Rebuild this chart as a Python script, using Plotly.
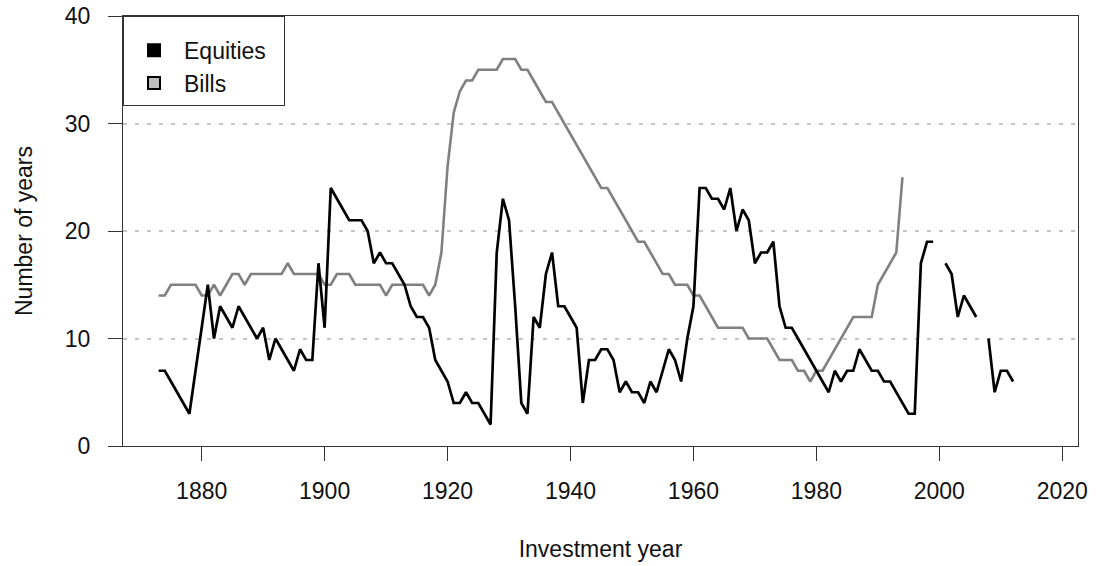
import plotly.graph_objects as go

years_eq = list(range(1873, 2013))
equities = [
    7, 7, 6, 5, 4, 3, 7, 11, 15, 10,          # 1873-1882
    13, 12, 11, 13, 12, 11, 10, 11, 8, 10,    # 1883-1892
    9, 8, 7, 9, 8, 8, 17, 11, 24, 23,         # 1893-1902
    22, 21, 21, 21, 20, 17, 18, 17, 17, 16,   # 1903-1912
    15, 13, 12, 12, 11, 8, 7, 6, 4, 4,        # 1913-1922
    5, 4, 4, 3, 2, 18, 23, 21, 13, 4,         # 1923-1932
    3, 12, 11, 16, 18, 13, 13, 12, 11, 4,     # 1933-1942
    8, 8, 9, 9, 8, 5, 6, 5, 5, 4,             # 1943-1952
    6, 5, 7, 9, 8, 6, 10, 13, 24, 24,         # 1953-1962
    23, 23, 22, 24, 20, 22, 21, 17, 18, 18,   # 1963-1972
    19, 13, 11, 11, 10, 9, 8, 7, 6, 5,        # 1973-1982
    7, 6, 7, 7, 9, 8, 7, 7, 6, 6,             # 1983-1992
    5, 4, 3, 3, 17, 19, 19, None, 17, 16,     # 1993-2002
    12, 14, 13, 12, None, 10, 5, 7, 7, 6,     # 2003-2012
]

years_bi = list(range(1873, 1995))
bills = [
    14, 14, 15, 15, 15, 15, 15, 14, 14, 15,   # 1873-1882
    14, 15, 16, 16, 15, 16, 16, 16, 16, 16,   # 1883-1892
    16, 17, 16, 16, 16, 16, 16, 15, 15, 16,   # 1893-1902
    16, 16, 15, 15, 15, 15, 15, 14, 15, 15,   # 1903-1912
    15, 15, 15, 15, 14, 15, 18, 26, 31, 33,   # 1913-1922
    34, 34, 35, 35, 35, 35, 36, 36, 36, 35,   # 1923-1932
    35, 34, 33, 32, 32, 31, 30, 29, 28, 27,   # 1933-1942
    26, 25, 24, 24, 23, 22, 21, 20, 19, 19,   # 1943-1952
    18, 17, 16, 16, 15, 15, 15, 14, 14, 13,   # 1953-1962
    12, 11, 11, 11, 11, 11, 10, 10, 10, 10,   # 1963-1972
    9, 8, 8, 8, 7, 7, 6, 7, 7, 8,             # 1973-1982
    9, 10, 11, 12, 12, 12, 12, 15, 16, 17,    # 1983-1992
    18, 25,                                   # 1993-1994
]

x_ticks = [1880, 1900, 1920, 1940, 1960, 1980, 2000, 2020]
y_ticks = [0, 10, 20, 30, 40]

FONT = "Liberation Sans, Arial, sans-serif"
AXC = "#333333"
NB = "\u00a0"

fig = go.Figure()
fig.add_trace(go.Scatter(x=years_bi, y=bills, mode="lines",
                         line=dict(color="#808080", width=2.6),
                         showlegend=False, connectgaps=False))
fig.add_trace(go.Scatter(x=years_eq, y=equities, mode="lines",
                         line=dict(color="#000000", width=2.7),
                         showlegend=False, connectgaps=False))
# legend entries (filled squares)
fig.add_trace(go.Scatter(x=[None], y=[None], mode="markers",
                         name="Equities" + NB * 2,
                         marker=dict(symbol="square", size=16, color="#000000",
                                     line=dict(color="#000000", width=1))))
fig.add_trace(go.Scatter(x=[None], y=[None], mode="markers", name="Bills",
                         marker=dict(symbol="square", size=16, color="#bebebe",
                                     line=dict(color="#000000", width=1))))

fig.update_layout(
    width=1096, height=566,
    margin=dict(l=123, r=18, t=16, b=120, autoexpand=False),
    paper_bgcolor="white", plot_bgcolor="white",
    font=dict(family=FONT, size=23, color="#111111"),
    showlegend=True,
    legend=dict(x=0, y=1, xanchor="left", yanchor="top",
                bgcolor="white", bordercolor=AXC, borderwidth=1,
                font=dict(size=23), itemsizing="constant", itemwidth=50,
                tracegroupgap=0,
                title=dict(text=" ", font=dict(size=9))),
    xaxis=dict(range=[1867.2, 2022.56], tickvals=x_ticks,
               showgrid=False, zeroline=False, automargin=False,
               showline=True, linecolor=AXC, linewidth=1, mirror=True,
               ticks="outside", ticklen=14, tickwidth=1, tickcolor=AXC,
               ticklabelstandoff=10,
               title=dict(text="Investment year", standoff=38,
                          font=dict(size=23))),
    yaxis=dict(range=[0, 40], tickvals=y_ticks,
               showgrid=True, gridcolor="#c4c4c4", gridwidth=2,
               griddash="4px,8px", zeroline=False, automargin=False,
               showline=True, linecolor=AXC, linewidth=1, mirror=True,
               ticks="outside", ticklen=14, tickwidth=1, tickcolor=AXC,
               ticklabelstandoff=13,
               title=dict(text="Number of years", standoff=25,
                          font=dict(size=23))),
)

fig.write_html(
    "out.html",
    config={"displayModeBar": False},
    post_script="document.body.style.margin='0';"
                "document.body.style.overflow='hidden';",
)
